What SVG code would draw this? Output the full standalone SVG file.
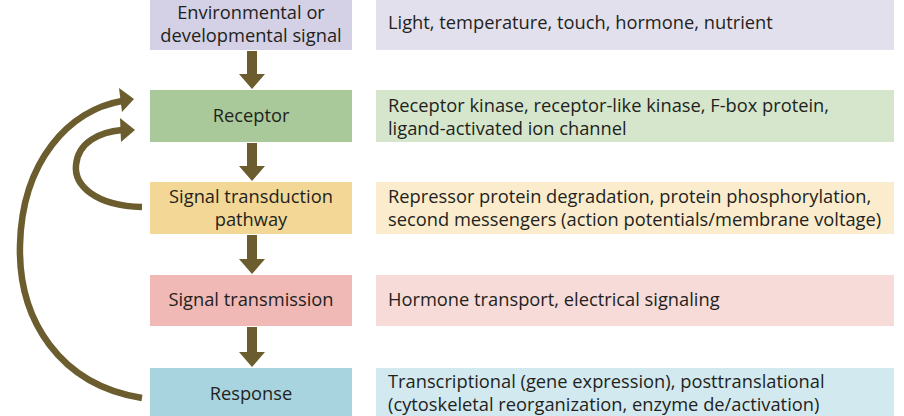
<svg xmlns="http://www.w3.org/2000/svg" width="904" height="416" viewBox="0 0 904 416">
<style>
text{font-family:"Open Sans","Liberation Sans",sans-serif;font-size:18.3px;fill:#231f20}
.c{text-anchor:middle}
.a{fill:#6b5d2e}
.l{fill:none;stroke:#6b5d2e;stroke-width:6.5}
</style>
<rect width="904" height="416" fill="#fff"/>
<g id="n1"><rect x="150" y="0" width="202" height="50" fill="#d4d0e5"/><text class="c" x="251" y="19">Environmental or</text><text class="c" x="251" y="42">developmental signal</text></g>
<g id="d1"><rect x="376" y="0" width="518" height="50" fill="#e3e0ee"/><text x="388" y="29">Light, temperature, touch, hormone, nutrient</text></g>
<g id="n2"><rect x="150" y="90" width="202" height="52" fill="#a9c99a"/><text class="c" x="251" y="122">Receptor</text></g>
<g id="d2"><rect x="376" y="90" width="518" height="52" fill="#d5e6cc"/><text x="388" y="112">Receptor kinase, receptor-like kinase, F-box protein,</text><text x="388" y="135">ligand-activated ion channel</text></g>
<g id="n3"><rect x="150" y="182" width="202" height="52" fill="#f2d796"/><text class="c" x="251" y="203">Signal transduction</text><text class="c" x="251" y="226">pathway</text></g>
<g id="d3"><rect x="376" y="182" width="518" height="52" fill="#faeccc"/><text x="388" y="203">Repressor protein degradation, protein phosphorylation,</text><text x="388" y="226">second messengers (action potentials/membrane voltage)</text></g>
<g id="n4"><rect x="150" y="275" width="202" height="51" fill="#f0b9b6"/><text class="c" x="251" y="306">Signal transmission</text></g>
<g id="d4"><rect x="376" y="275" width="518" height="51" fill="#f7dbd9"/><text x="388" y="306">Hormone transport, electrical signaling</text></g>
<g id="n5"><rect x="150" y="368" width="202" height="48" fill="#a8d4e0"/><text class="c" x="251" y="400">Response</text></g>
<g id="d5"><rect x="376" y="368" width="518" height="48" fill="#d3e9f0"/><text x="388" y="388">Transcriptional (gene expression), posttranslational</text><text x="388" y="411">(cytoskeletal reorganization, enzyme de/activation)</text></g>
<g id="connectors">
<path class="a" d="M247 51h10v23h8l-13 15l-13-15h8z"/>
<path class="a" d="M247 143h10v23h8l-13 15l-13-15h8z"/>
<path class="a" d="M247 235h10v24h8l-13 15l-13-15h8z"/>
<path class="a" d="M247 327h10v25h8l-13 15l-13-15h8z"/>
<path class="l" d="M142 398C60 385 18 320 20 245C22 160 70 110 122 101"/>
<path class="a" d="M134 99L119 88L122 112z"/>
<path class="l" d="M142 207C95 206 74 185 76 165C78 142 100 132 122 130"/>
<path class="a" d="M135 130L120 118L121 142z"/>
</g>
</svg>
